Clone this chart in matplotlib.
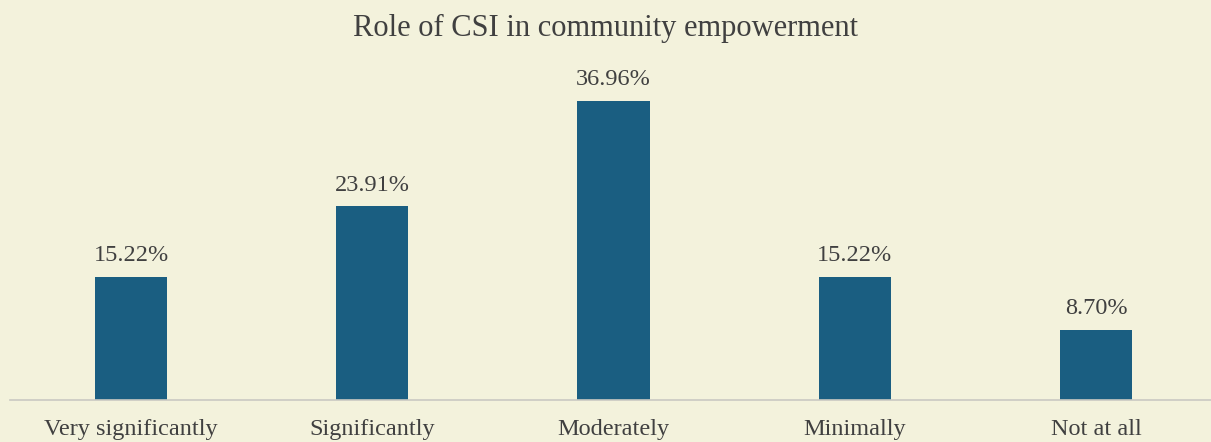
import matplotlib.pyplot as plt

# Survey responses
categorias = ["Very significantly", "Significantly", "Moderately", "Minimally", "Not at all"]
percentuais = [15.22, 23.91, 36.96, 15.22, 8.70]

fundo = "#F3F2DC"
corBarra = "#1A5E81"
corTexto = "#404040"

plt.rcParams['font.family'] = ['Liberation Serif', 'DejaVu Serif']

fig = plt.figure(figsize=(12.11, 4.42), dpi=100, facecolor=fundo)
ax = fig.add_axes([0.0086, 0.095, 0.996, 0.733], facecolor=fundo)

x = range(len(categorias))
barras = ax.bar(x, percentuais, width=0.30, color=corBarra, zorder=2)

for xi, v in zip(x, percentuais):
    ax.text(xi, v + 1.3, f"{v:.2f}%", ha='center', va='bottom', fontsize=17.5, color=corTexto)

ax.set_xlim(-0.5, 4.5)
ax.set_ylim(0, 40)
ax.set_xticks(list(x))
ax.set_xticklabels(categorias, fontsize=17.5, color=corTexto)
ax.tick_params(axis='x', length=0, pad=14)
ax.set_yticks([])

for lado in ['top', 'right', 'left']:
    ax.spines[lado].set_visible(False)
ax.spines['bottom'].set_color("#C9C9C2")
ax.spines['bottom'].set_linewidth(1.2)

fig.text(0.5, 0.935, "Role of CSI in community empowerment", ha='center', va='center',
         fontsize=22, color=corTexto)

fig.savefig("out.png", dpi=100, facecolor=fundo)
